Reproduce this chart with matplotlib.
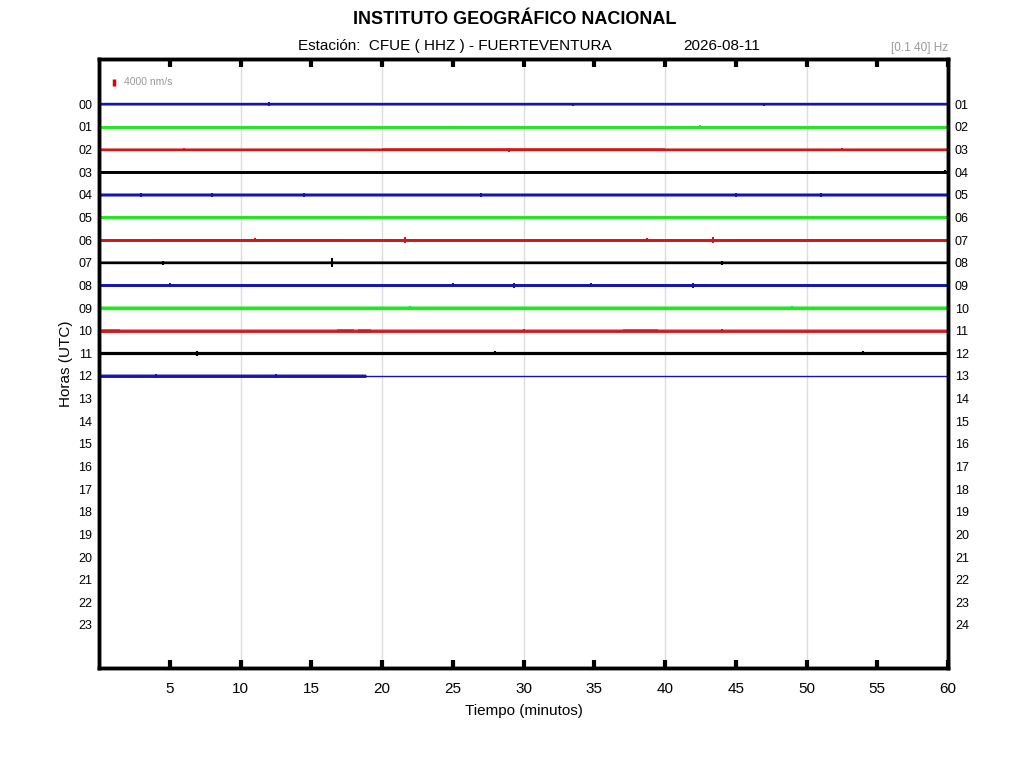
import numpy as np
import matplotlib
matplotlib.use('Agg')
import matplotlib.pyplot as plt

plt.rcParams['font.family'] = ['Liberation Sans', 'DejaVu Sans']

# hour rows shown on the helicorder
hours_left = ['%02d' % h for h in range(24)]
hours_right = ['%02d' % h for h in range(1, 25)]
trace_colors = ['#1414b4', '#22e622', '#d01818', '#000000']

# rows with data (0..12), end minute of each trace, base thickness (pt)
rows = list(range(13))
trace_end = [60, 60, 60, 60, 60, 60, 60, 60, 60, 60, 60, 60, 18.9]
trace_lw = [1.7, 2.1, 1.7, 2.1, 1.6, 2.1, 2.1, 1.7, 2.1, 2.4, 2.0, 2.3, 2.0]
# faint noise fringe around each trace (half width, rows)
noise_amp = [0.06, 0.06, 0.07, 0.05, 0.08, 0.06, 0.07, 0.07, 0.06, 0.08, 0.06, 0.07, 0.07]

# bursts of larger noise: row, start min, end min, half amplitude (rows)
burst_row = [2, 4, 4, 6, 6, 6, 8, 8, 9, 10, 10, 10, 10, 11, 11, 12]
burst_t0 = [20.0, 1.0, 35.0, 4.0, 20.5, 45.0, 35.5, 41.0, 0.5, 0.2, 16.8, 18.3, 37.0, 2.5, 52.0, 0.3]
burst_t1 = [40.0, 34.0, 58.0, 17.0, 22.0, 58.0, 40.0, 43.0, 59.5, 1.5, 18.0, 19.2, 39.5, 12.0, 58.0, 18.9]
burst_amp = [0.05, 0.05, 0.05, 0.06, 0.07, 0.06, 0.05, 0.06, 0.05, 0.09, 0.08, 0.09, 0.07, 0.05, 0.05, 0.05]

# isolated spikes: row, minute, half amplitude (rows)
spike_row = [0, 0, 0, 1, 1, 2, 2, 2, 3, 4, 4, 4, 4, 4, 4, 5, 5,
             6, 6, 6, 6, 7, 7, 7, 8, 8, 8, 8, 8, 9, 9, 10, 10, 11, 11, 11, 12, 12]
spike_t = [12.0, 33.5, 47.0, 25.0, 42.5, 6.0, 29.0, 52.5, 59.8, 3.0, 8.0, 14.5, 27.0, 45.0, 51.0, 16.0, 40.0,
           11.0, 21.6, 38.7, 43.4, 4.5, 16.5, 44.0, 5.0, 25.0, 29.3, 34.8, 42.0, 22.0, 49.0, 44.0, 30.0, 6.9, 28.0, 54.0, 4.0, 12.5]
spike_amp = [0.08, 0.07, 0.07, 0.06, 0.08, 0.08, 0.09, 0.08, 0.09, 0.10, 0.10, 0.09, 0.10, 0.09, 0.09, 0.07, 0.07,
             0.09, 0.13, 0.10, 0.13, 0.08, 0.20, 0.08, 0.09, 0.09, 0.12, 0.09, 0.10, 0.08, 0.08, 0.08, 0.07, 0.10, 0.08, 0.08, 0.07, 0.07]

# scale bar
scale_t = 1.05
scale_row = -0.97
scale_amp = 0.15

fig = plt.figure(figsize=(10.24, 7.68), dpi=100)
ax = fig.add_axes([0.0967, 0.1302, 0.8291, 0.7930])

for t in range(10, 60, 10):
    ax.axvline(t, color='#dddddd', linewidth=1, zorder=0)

for r in rows:
    c = trace_colors[r % 4]
    ax.fill_between([0, trace_end[r]], r - noise_amp[r], r + noise_amp[r],
                    color=c, alpha=0.45, linewidth=0, zorder=1)
    ax.plot([0, trace_end[r]], [r, r], color=c, linewidth=trace_lw[r],
            solid_capstyle='butt', zorder=2)
    if trace_end[r] < 60:
        ax.plot([trace_end[r], 60], [r, r], color=c, linewidth=1.0, zorder=2)

for r, t0, t1, a in zip(burst_row, burst_t0, burst_t1, burst_amp):
    ax.fill_between([t0, t1], r - a, r + a, color=trace_colors[r % 4],
                    alpha=0.6, linewidth=0, zorder=2)

for r, t, a in zip(spike_row, spike_t, spike_amp):
    ax.vlines(t, r - a, r + a, color=trace_colors[r % 4], linewidth=1.5, zorder=3)

ax.vlines(scale_t, scale_row - scale_amp, scale_row + scale_amp, color='#e00000',
          linewidth=2.5)
ax.text(scale_t + 0.75, scale_row, '4000 nm/s', color='#999999', fontsize=7.5,
        va='center', ha='left')

ax.set_xlim(0, 60)
ax.set_ylim(24.9, -2.0)
ax.set_xticks(range(5, 61, 5))
ax.tick_params(axis='x', direction='in', length=6, width=3, labelsize=11,
               top=True, pad=10)
ax.set_yticks(range(24))
ax.set_yticklabels(hours_left)
ax.tick_params(axis='y', length=0, labelsize=9, pad=5)

ax2 = ax.twinx()
ax2.set_ylim(ax.get_ylim())
ax2.set_yticks(range(24))
ax2.set_yticklabels(hours_right)
ax2.tick_params(axis='y', length=0, labelsize=9, pad=5)

for a in (ax, ax2):
    for s in a.spines.values():
        s.set_linewidth(2.5)

ax.set_xlabel('Tiempo (minutos)', fontsize=11, labelpad=6)
ax.set_ylabel('Horas (UTC)', fontsize=11, labelpad=4)

fig.text(0.503, 0.974, 'INSTITUTO GEOGRÁFICO NACIONAL', ha='center', va='center',
         fontsize=13, fontweight='bold')
fig.text(0.291, 0.940, 'Estación:  CFUE ( HHZ ) - FUERTEVENTURA', ha='left',
         va='center', fontsize=11)
fig.text(0.667, 0.940, '2026-08-11', ha='left', va='center', fontsize=11)
fig.text(0.926, 0.938, '[0.1 40] Hz', ha='right', va='center', fontsize=8.5,
         color='#999999')

fig.savefig('out.png', dpi=100)
